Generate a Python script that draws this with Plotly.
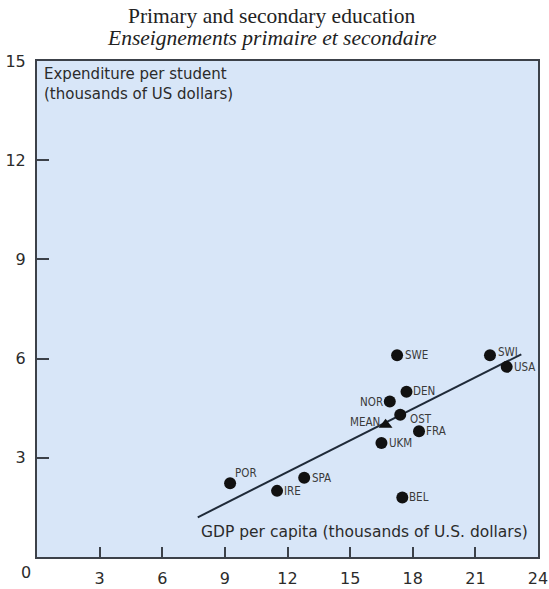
import plotly.graph_objects as go

# Countries: GDP per capita vs spending per student (thousands of US dollars)
countries = ["SWE", "SWI", "USA", "DEN", "NOR", "OST", "FRA", "UKM", "BEL", "POR", "IRE", "SPA"]
gdp = [17.25, 21.7, 22.5, 17.7, 16.9, 17.4, 18.3, 16.5, 17.5, 9.25, 11.5, 12.8]
spend = [6.1, 6.1, 5.75, 5.0, 4.7, 4.3, 3.8, 3.45, 1.8, 2.23, 2.0, 2.4]

mean_gdp = [16.7]
mean_spend = [4.0]

fit_x = [7.7, 23.2]
fit_y = [1.2, 6.13]

x_ticks = [3, 6, 9, 12, 15, 18, 21, 24]
y_ticks = [3, 6, 9, 12, 15]

# label placement: (anchor side, pixel shift x, pixel shift y)
label_offsets = {
    "SWE": ("left", 6, 0), "SWI": ("left", 6, 3), "USA": ("left", 5, 0),
    "DEN": ("left", 5, 1), "NOR": ("right", -5, 0), "OST": ("left", 8, -4),
    "FRA": ("left", 5, 0), "UKM": ("left", 6, 0), "BEL": ("left", 5, 0),
    "POR": ("left", 3, 10), "IRE": ("left", 5, 0), "SPA": ("left", 6, 0),
}

ink = "#2b2b2b"
frame = "#3c4149"
sans = "'DejaVu Sans', sans-serif"
narrow = "'DejaVu Sans Condensed', 'Liberation Sans Narrow', 'DejaVu Sans', sans-serif"
serif = "'Liberation Serif', 'Times New Roman', serif"

fig = go.Figure()

fig.add_trace(go.Scatter(
    x=fit_x, y=fit_y, mode="lines",
    line=dict(color="#1f2a38", width=2), hoverinfo="skip", showlegend=False))

fig.add_trace(go.Scatter(
    x=gdp, y=spend, mode="markers",
    marker=dict(size=12, color="#111111"), showlegend=False))

fig.add_trace(go.Scatter(
    x=mean_gdp, y=mean_spend, mode="markers",
    marker=dict(size=12, color="#111111", symbol="triangle-up"), showlegend=False))

annotations = []
for name, gx, sy in zip(countries, gdp, spend):
    side, dx, dy = label_offsets[name]
    annotations.append(dict(
        text=name, x=gx, y=sy, xref="x", yref="y", showarrow=False,
        xanchor=side, yanchor="middle", xshift=dx, yshift=dy,
        font=dict(family=narrow, size=11.5, color="#3a3a3a")))
annotations.append(dict(
    text="MEAN", x=mean_gdp[0], y=mean_spend[0], xref="x", yref="y", showarrow=False,
    xanchor="right", yanchor="middle", xshift=-4, yshift=3,
    font=dict(family=narrow, size=11.5, color="#3a3a3a")))

annotations += [
    dict(text="Primary and secondary education", xref="paper", yref="paper",
         x=0.469, y=1, yshift=45, showarrow=False, xanchor="center", yanchor="middle",
         font=dict(family=serif, size=21.5, color="#222222")),
    dict(text="<i>Enseignements primaire et secondaire</i>", xref="paper", yref="paper",
         x=0.469, y=1, yshift=23, showarrow=False, xanchor="center", yanchor="middle",
         font=dict(family=serif, size=21.5, color="#222222")),
    dict(text="Expenditure per student<br>(thousands of US dollars)", xref="paper",
         yref="paper", x=0, y=1, xshift=5, yshift=-2, xanchor="left", yanchor="top",
         align="left", showarrow=False, font=dict(family=sans, size=15, color=ink)),
    dict(text="GDP per capita (thousands of U.S. dollars)", xref="paper",
         yref="paper", x=1, y=0, xshift=-8, yshift=25, xanchor="right", yanchor="middle",
         showarrow=False, font=dict(family=sans, size=15.5, color=ink)),
    dict(text="0", xref="paper", yref="paper", x=0, y=0, xshift=-4, yshift=-15,
         xanchor="right", yanchor="middle", showarrow=False,
         font=dict(family=sans, size=16, color=ink)),
]

fig.update_layout(
    width=549, height=589,
    margin=dict(l=37, r=11, t=61, b=32),
    paper_bgcolor="white",
    plot_bgcolor="#d8e6f8",
    font=dict(family=sans, size=16, color=ink),
    xaxis=dict(range=[0, 24], tickvals=x_ticks, ticks="inside", ticklen=10,
               tickwidth=2, tickcolor=frame, showgrid=False, zeroline=False,
               showline=True, linecolor=frame, linewidth=2, mirror=True,
               automargin=False,
               tickfont=dict(family=sans, size=16, color=ink), ticklabelstandoff=6),
    yaxis=dict(range=[0, 15], tickvals=y_ticks, ticks="inside", ticklen=12,
               tickwidth=2, tickcolor=frame, showgrid=False, zeroline=False,
               showline=True, linecolor=frame, linewidth=2, mirror=True,
               automargin=False,
               tickfont=dict(family=sans, size=16, color=ink), ticklabelstandoff=6),
    annotations=annotations,
)

fig.write_html("out.html")
